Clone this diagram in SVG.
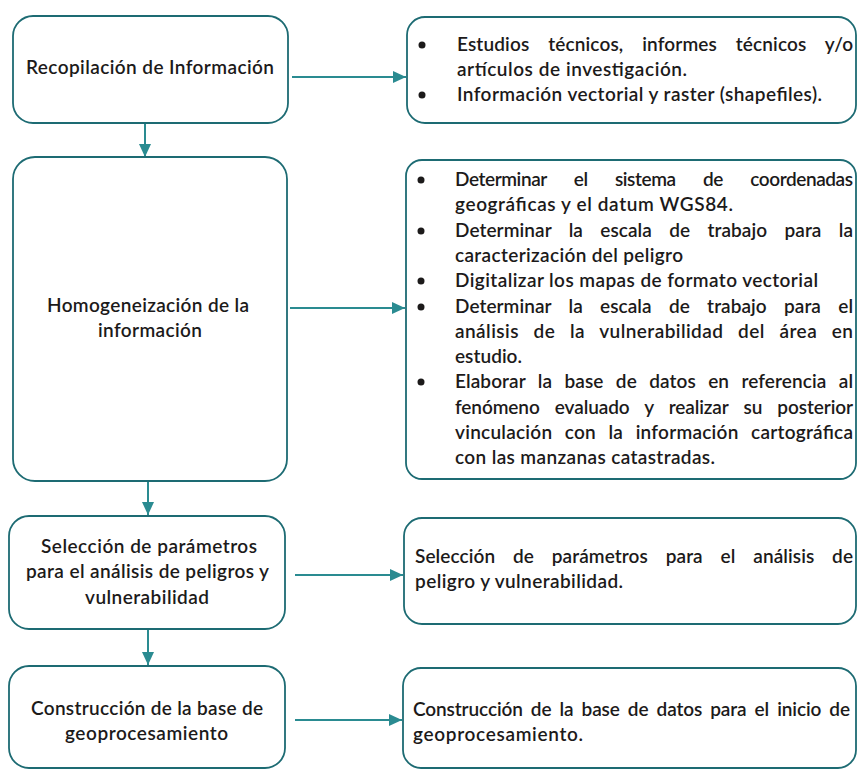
<svg xmlns="http://www.w3.org/2000/svg" width="859" height="769" viewBox="0 0 859 769">
<style>
.box{fill:#ffffff;stroke:#1d6b73;stroke-width:1.8}
.t{font-family:Lato,"Open Sans","Liberation Sans",sans-serif;font-size:19px;font-weight:600;fill:#1c1a1a}
.c{stroke:#2a8b91;stroke-width:2;fill:none}
.b{fill:#1c1a1a}
</style>
<defs>
<marker id="ah" markerUnits="userSpaceOnUse" markerWidth="14" markerHeight="12" refX="13" refY="6" orient="auto">
<path d="M0,0 L13,6 L0,12 Z" fill="#2a8b91"/>
</marker>
</defs>
<rect width="859" height="769" fill="#ffffff"/>
<g id="connectors">
<line class="c" x1="145" y1="124" x2="145" y2="157" marker-end="url(#ah)"/>
<line class="c" x1="148" y1="482" x2="148" y2="515" marker-end="url(#ah)"/>
<line class="c" x1="148" y1="630" x2="148" y2="665" marker-end="url(#ah)"/>
<line class="c" x1="292" y1="77" x2="406" y2="77" marker-end="url(#ah)"/>
<line class="c" x1="290" y1="308" x2="405" y2="308" marker-end="url(#ah)"/>
<line class="c" x1="295" y1="575" x2="403" y2="575" marker-end="url(#ah)"/>
<line class="c" x1="295" y1="720" x2="402" y2="720" marker-end="url(#ah)"/>
</g>
<g id="n1">
<rect class="box" x="13" y="16" width="275" height="107" rx="20"/>
<text class="t" x="26" y="74" textLength="248" lengthAdjust="spacing">Recopilación de Información</text>
</g>
<g id="n2">
<rect class="box" x="13" y="157" width="274" height="324" rx="22"/>
<text class="t" x="47" y="312" textLength="202" lengthAdjust="spacing">Homogeneización de la</text>
<text class="t" x="98" y="337" textLength="104" lengthAdjust="spacing">información</text>
</g>
<g id="n3">
<rect class="box" x="9" y="516" width="276" height="113" rx="20"/>
<text class="t" x="41" y="553" textLength="216" lengthAdjust="spacing">Selección de parámetros</text>
<text class="t" x="26" y="578" textLength="243" lengthAdjust="spacing">para el análisis de peligros y</text>
<text class="t" x="85" y="604" textLength="124" lengthAdjust="spacing">vulnerabilidad</text>
</g>
<g id="n4">
<rect class="box" x="9" y="666" width="276" height="102" rx="20"/>
<text class="t" x="31" y="715" textLength="232" lengthAdjust="spacing">Construcción de la base de</text>
<text class="t" x="65" y="740" textLength="163" lengthAdjust="spacing">geoprocesamiento</text>
</g>
<g id="r1">
<rect class="box" x="407" y="17" width="449" height="106" rx="18"/>
<circle class="b" cx="422" cy="45" r="3.5"/>
<circle class="b" cx="422" cy="95" r="3.5"/>
<text class="t" x="457" y="51" word-spacing="14" textLength="396" lengthAdjust="spacing">Estudios técnicos, informes técnicos y/o</text>
<text class="t" x="457" y="76" textLength="230" lengthAdjust="spacing">artículos de investigación.</text>
<text class="t" x="457" y="101" textLength="365" lengthAdjust="spacing">Información vectorial y raster (shapefiles).</text>
</g>
<g id="r2">
<rect class="box" x="406" y="160" width="450" height="319" rx="16"/>
<circle class="b" cx="421" cy="180" r="3.5"/>
<circle class="b" cx="421" cy="231" r="3.5"/>
<circle class="b" cx="421" cy="281" r="3.5"/>
<circle class="b" cx="421" cy="307" r="3.5"/>
<circle class="b" cx="421" cy="382" r="3.5"/>
<text class="t" x="455" y="186" word-spacing="23" textLength="398" lengthAdjust="spacing">Determinar el sistema de coordenadas</text>
<text class="t" x="455" y="211.3" textLength="278" lengthAdjust="spacing">geográficas  y el datum WGS84.</text>
<text class="t" x="455" y="236.6" word-spacing="12.5" textLength="398" lengthAdjust="spacing">Determinar la escala de trabajo para la</text>
<text class="t" x="455" y="261.9" textLength="228" lengthAdjust="spacing">caracterización del peligro</text>
<text class="t" x="455" y="287.2" textLength="363" lengthAdjust="spacing">Digitalizar los mapas de formato vectorial</text>
<text class="t" x="455" y="312.5" word-spacing="12.5" textLength="398" lengthAdjust="spacing">Determinar la escala de trabajo para el</text>
<text class="t" x="455" y="337.8" word-spacing="9.5" textLength="398" lengthAdjust="spacing">análisis de la vulnerabilidad del área en</text>
<text class="t" x="455" y="363.1" textLength="67" lengthAdjust="spacing">estudio.</text>
<text class="t" x="455" y="388.4" word-spacing="7.5" textLength="398" lengthAdjust="spacing">Elaborar la base de datos en referencia al</text>
<text class="t" x="455" y="413.7" word-spacing="10.5" textLength="398" lengthAdjust="spacing">fenómeno evaluado y realizar su posterior</text>
<text class="t" x="455" y="439" word-spacing="7.5" textLength="398" lengthAdjust="spacing">vinculación con la información cartográfica</text>
<text class="t" x="455" y="464.3" textLength="260" lengthAdjust="spacing">con las manzanas catastradas.</text>
</g>
<g id="r3">
<rect class="box" x="404" y="518" width="452" height="106" rx="18"/>
<text class="t" x="415" y="563" word-spacing="13" textLength="438" lengthAdjust="spacing">Selección de parámetros para el análisis de</text>
<text class="t" x="415" y="588" textLength="208" lengthAdjust="spacing">peligro y vulnerabilidad.</text>
</g>
<g id="r4">
<rect class="box" x="403" y="668" width="453" height="100" rx="18"/>
<text class="t" x="413" y="716" word-spacing="3.5" textLength="437" lengthAdjust="spacing">Construcción de la base de datos para el inicio de</text>
<text class="t" x="413" y="741" textLength="170" lengthAdjust="spacing">geoprocesamiento.</text>
</g>
</svg>
